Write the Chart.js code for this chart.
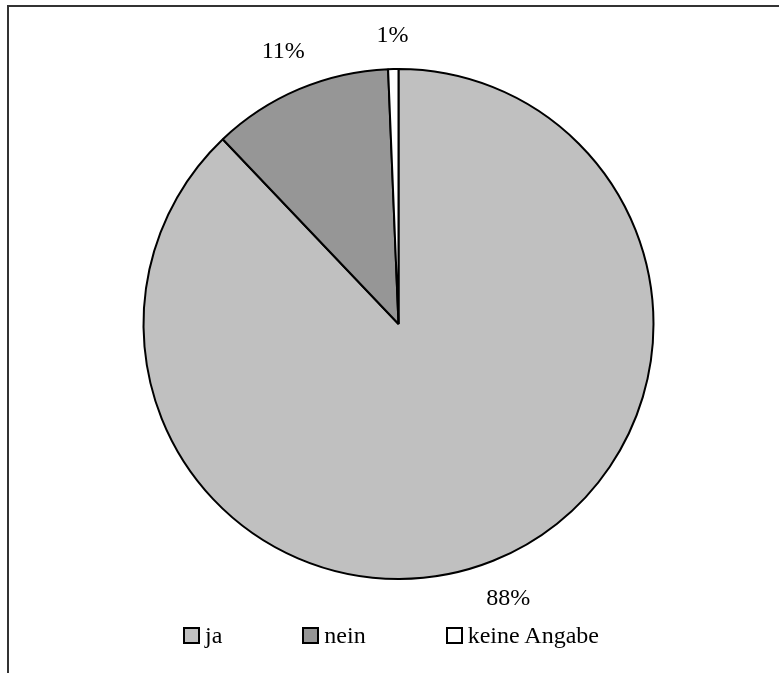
<!DOCTYPE html>
<html>
<head>
<meta charset="utf-8">
<script src="https://cdn.jsdelivr.net/npm/chart.js@4"></script>
<style>
    body { margin: 0; background: #fff; overflow: hidden; }
    #wrap { position: relative; width: 779px; height: 673px; }
    #frame {
        position: absolute; left: 7px; top: 5px; width: 800px; height: 700px;
        border-top: 2px solid #333; border-left: 2px solid #333;
        pointer-events: none;
    }
    #legend {
        position: absolute; left: 183px; top: 620px; height: 30px;
        font-family: "Liberation Serif", "Times New Roman", serif; font-size: 24px;
        display: flex; align-items: center; color: #000;
    }
    .item { display: flex; align-items: center; margin-right: 80px; }
    .box { width: 13px; height: 13px; border: 2px solid #000; margin-right: 5px; }
</style>
</head>
<body>
<div id="wrap">
    <canvas id="chart" width="779" height="673"></canvas>
    <div id="frame"></div>
    <div id="legend"></div>
</div>
<script>
// Daten aus dem Diagramm
const kategorien = ["ja", "nein", "keine Angabe"];
const anteile = [87.9, 11.45, 0.65];
const farben = ["#c0c0c0", "#969696", "#ffffff"];

const ctx = document.getElementById("chart").getContext("2d");

// Prozentangaben außerhalb des Kreises zeichnen
const prozentLabels = {
    id: "prozentLabels",
    afterDatasetsDraw(chart) {
        const c = chart.ctx;
        const meta = chart.getDatasetMeta(0);
        c.save();
        c.font = "24px 'Liberation Serif', 'Times New Roman', serif";
        c.fillStyle = "#000";
        c.textAlign = "center";
        c.textBaseline = "middle";
        meta.data.forEach((arc, i) => {
            const p = arc.getProps(["x", "y", "startAngle", "endAngle", "outerRadius"], true);
            const mitte = (p.startAngle + p.endAngle) / 2;
            const text = Math.round(anteile[i]) + "%";
            const w = c.measureText(text).width;
            const cos = Math.cos(mitte), sin = Math.sin(mitte);
            const d = p.outerRadius + 24 + Math.abs(cos) * w / 2 + Math.abs(sin) * 9;
            c.fillText(text, p.x + cos * d, p.y + sin * d);
        });
        c.restore();
    }
};

new Chart(ctx, {
    type: "pie",
    data: {
        labels: kategorien,
        datasets: [{
            data: anteile,
            backgroundColor: farben,
            borderColor: "#000",
            borderWidth: 2
        }]
    },
    options: {
        responsive: false,
        animation: false,
        radius: 255,
        layout: { padding: { left: 18, right: 0, top: 40, bottom: 65 } },
        plugins: {
            legend: { display: false },
            tooltip: { enabled: false }
        }
    },
    plugins: [prozentLabels]
});

// Legende
const legende = document.getElementById("legend");
kategorien.forEach((name, i) => {
    const item = document.createElement("div");
    item.className = "item";
    item.innerHTML = `<span class="box" style="background:${farben[i]}"></span><span>${name}</span>`;
    legende.appendChild(item);
});
</script>
</body>
</html>
